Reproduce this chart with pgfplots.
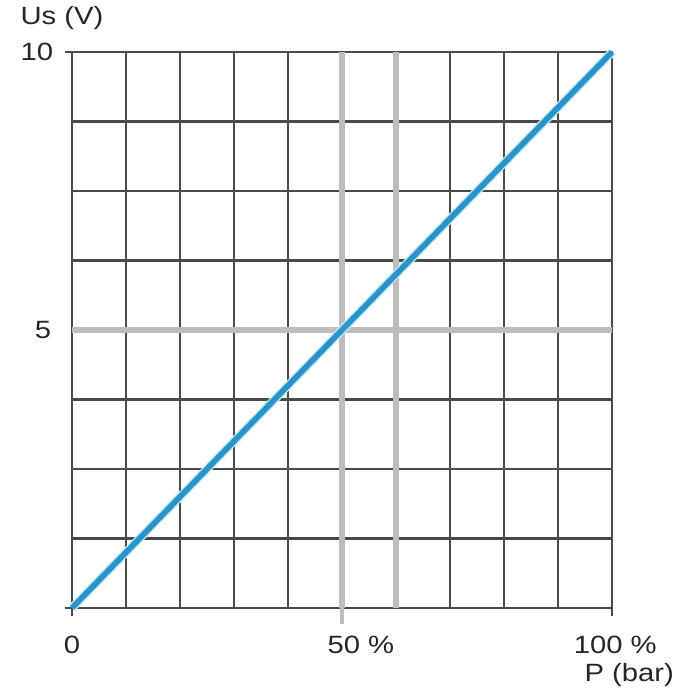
\documentclass[border=0pt]{standalone}
\usepackage{pgfplots}
\pgfplotsset{compat=1.18}
\usepackage{fontspec}
\setmainfont{Liberation Sans}
\definecolor{gridc}{HTML}{4A4A4A}
\definecolor{lgrey}{HTML}{BDBDBD}
\definecolor{lineblue}{HTML}{2A93C7}
\definecolor{halo}{HTML}{BDE8F7}
\tikzset{lbl/.style={font=\fontsize{12.5pt}{14pt}\selectfont, xscale=1.17, text=black!85}}
\begin{document}
\begin{tikzpicture}
\path[use as bounding box] (-36pt,-46pt) rectangle (314pt,304pt);
\begin{axis}[
  at={(0,0)}, anchor=origin,
  scale only axis, width=270pt, height=278pt,
  xmin=0, xmax=100, ymin=0, ymax=10,
  xtick={0,10,...,100}, ytick={0,1.25,...,10},
  xticklabels={}, yticklabels={},
  major tick length=0pt,
  grid=major,
  grid style={draw=gridc, line width=1.3pt},
  axis line style={draw=gridc, line width=1.3pt},
  clip=false,
]
\draw[lgrey, line width=3pt] (axis cs:50,0) -- (axis cs:50,10);
\draw[lgrey, line width=3pt] (axis cs:60,0) -- (axis cs:60,10);
\draw[lgrey, line width=3pt] (axis cs:0,5) -- (axis cs:100,5);
% ticks
\draw[gridc, line width=1.3pt] (axis cs:0,0) -- ++(0,-4pt);
\draw[lgrey, line width=2pt] (axis cs:50,0) -- ++(0,-8pt);
\draw[gridc, line width=1.3pt] (axis cs:100,0) -- ++(0,-4pt);
\draw[gridc, line width=1.3pt] (axis cs:0,0) -- ++(-3.5pt,0);
\draw[gridc, line width=1.3pt] (axis cs:0,10) -- ++(-3.5pt,0);
\addplot[halo, line width=4.2pt, forget plot] coordinates {(0,0) (100,10)};
\addplot[lineblue, line width=2.8pt] coordinates {(0,0) (100,10)};
% labels
\node[lbl] at ([yshift=-18.5pt]axis cs:0,0) {0};
\node[lbl] at ([yshift=-18.5pt]axis cs:53.5,0) {50 \%};
\node[lbl] at ([yshift=-18.5pt]axis cs:100.6,0) {100 \%};
\node[lbl] at ([yshift=-33.5pt]axis cs:103.2,0) {P (bar)};
\node[lbl] at ([xshift=-17.5pt]axis cs:0,10) {10};
\node[lbl] at ([xshift=-14.5pt]axis cs:0,5) {5};
\node[lbl] at ([xshift=-5pt,yshift=17pt]axis cs:0,10) {Us (V)};
\end{axis}
\end{tikzpicture}
\end{document}
